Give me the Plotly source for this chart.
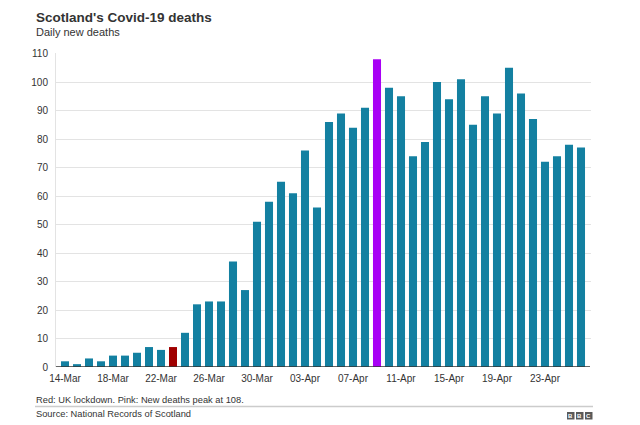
import plotly.graph_objects as go
import pandas as pd

dates = pd.date_range("2020-03-14", "2020-04-26", freq="D").strftime("%Y-%m-%d").tolist()
deaths = [2, 1, 3, 2, 4, 4, 5, 7, 6, 7, 12, 22, 23, 23, 37, 27, 51, 58, 65, 61,
          76, 56, 86, 89, 84, 91, 108, 98, 95, 74, 79, 100, 94, 101, 85, 95, 89,
          105, 96, 87, 72, 74, 78, 77]
lockdown_date = "2020-03-23"
peak_date = "2020-04-09"
tick_vals = ["2020-03-14", "2020-03-18", "2020-03-22", "2020-03-26", "2020-03-30",
             "2020-04-03", "2020-04-07", "2020-04-11", "2020-04-15", "2020-04-19",
             "2020-04-23"]
tick_text = ["14-Mar", "18-Mar", "22-Mar", "26-Mar", "30-Mar", "03-Apr", "07-Apr",
             "11-Apr", "15-Apr", "19-Apr", "23-Apr"]
y_ticks = [0, 10, 20, 30, 40, 50, 60, 70, 80, 90, 100, 110]

TEAL = "#1380A1"
RED = "#A00000"
PURPLE = "#A800F5"
colors = [RED if d == lockdown_date else PURPLE if d == peak_date else TEAL for d in dates]

W, H = 640, 425
ML, MR, MT, MB = 56, 49, 53, 58

fig = go.Figure(go.Bar(x=dates, y=deaths, marker=dict(color=colors, line=dict(width=0)),
                       hoverinfo="x+y"))

fig.update_layout(
    width=W, height=H,
    margin=dict(l=ML, r=MR, t=MT, b=MB),
    paper_bgcolor="white", plot_bgcolor="white",
    bargap=0.33,
    showlegend=False,
    font=dict(family="Liberation Sans, Arial, sans-serif", color="#333333"),
)
fig.update_xaxes(
    type="date",
    range=["2020-03-13 06:00", "2020-04-26 20:00"],
    tickvals=tick_vals, ticktext=tick_text,
    tickfont=dict(size=10, color="#333333"),
    showgrid=False, showline=False, zeroline=False, ticks="",
    ticklabelstandoff=4,
)
fig.update_yaxes(
    range=[0, 110.2],
    tickvals=y_ticks,
    tickfont=dict(size=10, color="#333333"),
    showgrid=True, gridcolor="#e3e3e3", gridwidth=1,
    showline=True, linecolor="#e3e3e3", linewidth=1,
    zeroline=False, ticks="", ticklabelstandoff=5,
)


def px(x):
    return (x - ML) / (W - ML - MR)


def py(y):
    return (H - MB - y) / (H - MT - MB)


# zero baseline
fig.add_shape(type="line", xref="paper", yref="y", x0=px(56), x1=px(590), y0=0, y1=0,
              line=dict(color="#333333", width=1.5))

fig.add_annotation(text="<b>Scotland's Covid-19 deaths</b>", xref="paper", yref="paper",
                   x=px(34), y=py(17), xanchor="left", yanchor="middle", showarrow=False,
                   font=dict(size=13.5, color="#333333"))
fig.add_annotation(text="Daily new deaths", xref="paper", yref="paper",
                   x=px(34), y=py(32), xanchor="left", yanchor="middle", showarrow=False,
                   font=dict(size=11, color="#333333"))
fig.add_annotation(text="Red: UK lockdown. Pink: New deaths peak at 108.", xref="paper", yref="paper",
                   x=px(34), y=py(400), xanchor="left", yanchor="middle", showarrow=False,
                   font=dict(size=9.3, color="#333333"))
fig.add_annotation(text="Source: National Records of Scotland", xref="paper", yref="paper",
                   x=px(34), y=py(414), xanchor="left", yanchor="middle", showarrow=False,
                   font=dict(size=9.3, color="#333333"))

fig.add_shape(type="line", xref="paper", yref="paper", x0=px(35), x1=px(593),
              y0=py(406.5), y1=py(406.5), line=dict(color="#cccccc", width=1.5))

# BBC logo
for i, letter in enumerate("BBC"):
    x0 = 567 + i * 9
    fig.add_shape(type="rect", xref="paper", yref="paper", x0=px(x0), x1=px(x0 + 7.5),
                  y0=py(419.5), y1=py(412), fillcolor="#5a5a5a", line=dict(width=0))
    fig.add_annotation(text="<b>%s</b>" % letter, xref="paper", yref="paper",
                       x=px(x0 + 3.75), y=py(415.8), xanchor="center", yanchor="middle",
                       showarrow=False, font=dict(size=6, color="white"))

fig.write_html("out.html", config={"displayModeBar": False},
               post_script="document.body.style.margin='0';")
